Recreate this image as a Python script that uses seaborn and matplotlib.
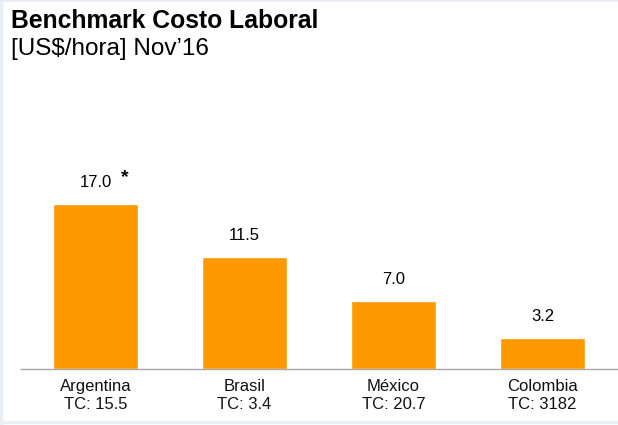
import matplotlib
matplotlib.use("Agg")
import matplotlib.pyplot as plt
import matplotlib.lines as mlines
import seaborn as sns
import pandas as pd

# chart data
paises = ["Argentina", "Brasil", "México", "Colombia"]
tipo_cambio = ["15.5", "3.4", "20.7", "3182"]
costo = [17.0, 11.5, 7.0, 3.2]

data = pd.DataFrame({"pais": paises, "costo": costo})

sns.set_style("white")
plt.rcParams["font.family"] = ["Liberation Sans", "DejaVu Sans"]
plt.rcParams["text.color"] = "black"

fig = plt.figure(figsize=(6.18, 4.25), dpi=100)
ax = fig.add_axes([21 / 618, 56 / 425, 596 / 618, 194 / 425])

sns.barplot(data=data, x="pais", y="costo", color="#FF9900", width=0.57,
            saturation=1, ax=ax)

ax.set_xlim(-0.5, 3.5)
ax.set_ylim(0, 20)

# value labels
for i, v in enumerate(costo):
    ax.annotate(f"{v:.1f}", (i, v), xytext=(0, 15.8), textcoords="offset points",
                ha="center", va="center", fontsize=12, color="black")
ax.annotate("*", (0, costo[0]), xytext=(21, 19), textcoords="offset points",
            ha="center", va="center", fontsize=14, fontweight="bold", color="black")

# axes styling
for s in ["top", "right", "left"]:
    ax.spines[s].set_visible(False)
ax.spines["bottom"].set_color("#A6A6A6")
ax.spines["bottom"].set_linewidth(1.0)
ax.set_yticks([])
ax.set_xticks(range(len(paises)))
ax.set_xticklabels([f"{p}\nTC: {t}" for p, t in zip(paises, tipo_cambio)],
                   fontsize=12, color="#111111", linespacing=1.25)
ax.tick_params(axis="x", which="major", length=0, pad=7)
ax.set_xticks([-0.5, 0.5, 1.5, 2.5, 3.5], minor=True)
ax.tick_params(axis="x", which="minor", length=4, color="#A6A6A6", width=1, direction="out")
ax.set_xlabel("")
ax.set_ylabel("")

# titles
fig.text(11 / 618, 1 - 9 / 425, "Benchmark Costo Laboral", fontsize=17.8,
         fontweight="bold", ha="left", va="top", color="black")
fig.text(11 / 618, 1 - 38 / 425, "[US$/hora] Nov\u201916", fontsize=17.5,
         ha="left", va="top", color="black")

# light border on left, top and bottom
frame_col = "#E8EEF6"
fig.add_artist(mlines.Line2D([0.002, 0.002], [0, 1], color=frame_col, lw=2.5))
fig.add_artist(mlines.Line2D([0, 1], [0.998, 0.998], color=frame_col, lw=1.5))
fig.add_artist(mlines.Line2D([0, 1], [3 / 425, 3 / 425], color=frame_col, lw=2.5))

fig.savefig("out.png", dpi=100)
